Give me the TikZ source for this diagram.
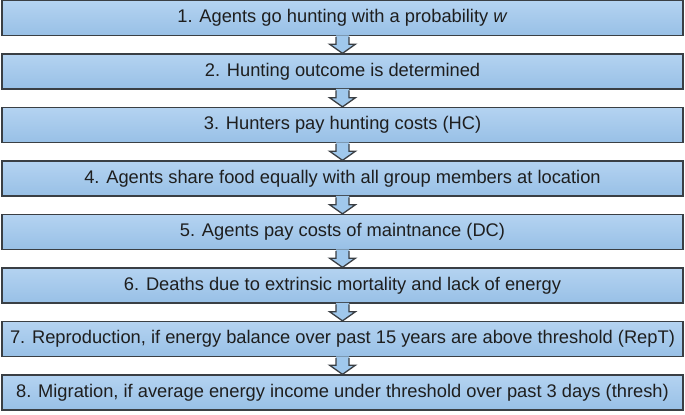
\documentclass[tikz,border=0pt]{standalone}
\usepackage{fontspec}
\setmainfont{Liberation Sans}
\begin{document}
\begin{tikzpicture}[x=1bp,y=-1bp,
  stepbox/.style={draw=boxline, line width=1.3bp, top color=boxtop, bottom color=boxbot,
    minimum width=681bp, minimum height=35bp, inner sep=0pt, text=txt,
    font=\fontsize{18.3bp}{20bp}\selectfont},
  arrfill/.style={fill=arrblue},
  arrline/.style={draw=boxline, line width=1.3bp, line join=miter}]
\definecolor{boxline}{HTML}{3A3F44}
\definecolor{boxtop}{HTML}{B4D3F1}
\definecolor{boxbot}{HTML}{98C0E6}
\definecolor{arrblue}{HTML}{A0C8EC}
\definecolor{txt}{HTML}{1E1E1E}
\useasboundingbox (0,0) rectangle (685,414);
\node[stepbox] (b1) at (342.5,18.0) {1. Agents go hunting with a probability \textit{w}};
\node[stepbox] (b2) at (342.5,71.5) {2. Hunting outcome is determined};
\node[stepbox] (b3) at (342.5,125.0) {3. Hunters pay hunting costs (HC)};
\node[stepbox] (b4) at (342.5,178.5) {4. Agents share food equally with all group members at location};
\node[stepbox] (b5) at (342.5,232.0) {5. Agents pay costs of maintnance (DC)};
\node[stepbox] (b6) at (342.5,285.5) {6. Deaths due to extrinsic mortality and lack of energy};
\node[stepbox] (b7) at (342.5,339.0) {7. Reproduction, if energy balance over past 15 years are above threshold (RepT)};
\node[stepbox] (b8) at (342.5,392.5) {8. Migration, if average energy income under threshold over past 3 days (thresh)};
\foreach \i/\j in {1/2,2/3,3/4,4/5,5/6,6/7,7/8}{
  \fill[arrfill] ([xshift=-6.5bp,yshift=0.7bp]b\i.south) -- ([xshift=-6.5bp,yshift=-8bp]b\i.south)
    -- ([xshift=-13bp,yshift=-8bp]b\i.south) -- (b\j.north) -- ([xshift=13bp,yshift=-8bp]b\i.south)
    -- ([xshift=6.5bp,yshift=-8bp]b\i.south) -- ([xshift=6.5bp,yshift=0.7bp]b\i.south) -- cycle;
  \draw[arrline] ([xshift=-6.5bp,yshift=-0.6bp]b\i.south) -- ([xshift=-6.5bp,yshift=-8bp]b\i.south)
    -- ([xshift=-13bp,yshift=-8bp]b\i.south) -- (b\j.north) -- ([xshift=13bp,yshift=-8bp]b\i.south)
    -- ([xshift=6.5bp,yshift=-8bp]b\i.south) -- ([xshift=6.5bp,yshift=-0.6bp]b\i.south);
}
\end{tikzpicture}
\end{document}
